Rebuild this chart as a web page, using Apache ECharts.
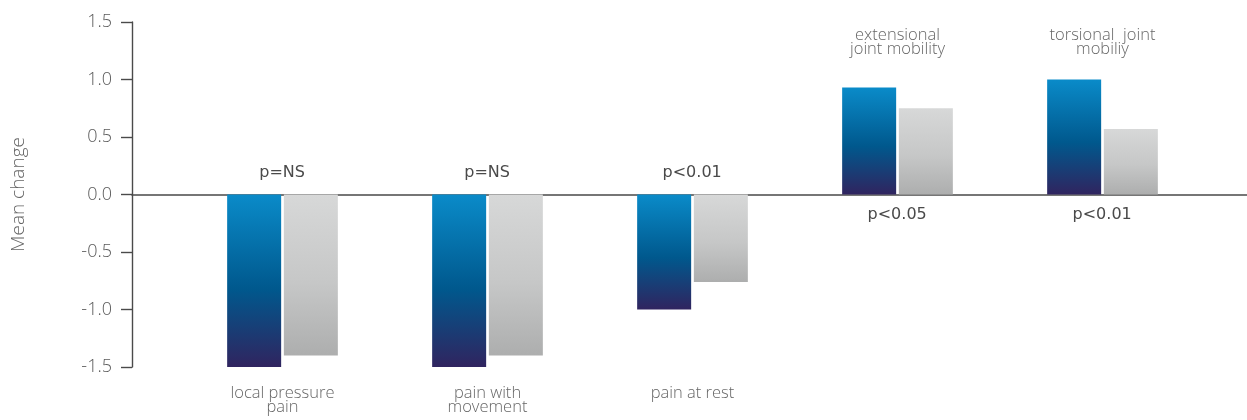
<!DOCTYPE html>
<html>
<head>
<meta charset="utf-8">
<script src="https://cdn.jsdelivr.net/npm/echarts@6/dist/echarts.min.js"></script>
<style>
html,body{margin:0;padding:0;background:#fff;}
#chart{width:1247px;height:420px;}
</style>
</head>
<body>
<div id="chart"></div>
<script>
// ---- data ----
var categories = ['local pressure\npain', 'pain with\nmovement', 'pain at rest', 'extensional\njoint mobility', 'torsional  joint\nmobiliy'];
var treatmentValues = [-1.5, -1.5, -1.0, 0.93, 1.0];
var comparatorValues = [-1.4, -1.4, -0.76, 0.75, 0.57];
var pValues = ['p=NS', 'p=NS', 'p<0.01', 'p<0.05', 'p<0.01'];
var yTicks = [-1.5, -1.0, -0.5, 0.0, 0.5, 1.0, 1.5];

var LIGHT = '"Open Sans", "DejaVu Sans", sans-serif';
var PFONT = '"DejaVu Sans", "Open Sans", sans-serif';
var chart = echarts.init(document.getElementById('chart'), null, {renderer: 'canvas'});

function grad(c0, c1, c2) {
  return new echarts.graphic.LinearGradient(0, 0, 0, 1, [
    {offset: 0, color: c0}, {offset: 0.55, color: c1}, {offset: 1, color: c2}
  ]);
}

var blueData = treatmentValues.map(function (v) {
  return {
    value: v,
    itemStyle: {color: grad('#0a8bc9', '#00588d', '#30245f')},
    label: {position: v < 0 ? 'top' : 'bottom', distance: v < 0 ? 14 : 12}
  };
});
var greyData = comparatorValues.map(function (v) {
  return {
    value: v,
    itemStyle: {color: grad('#d7d8d8', '#c6c7c7', '#adaeae')}
  };
});

var option = {
  animation: false,
  backgroundColor: '#ffffff',
  grid: [
    {left: 132, right: 0, top: 22, bottom: 53},
    {left: 180, right: 42, top: 22, bottom: 53}
  ],
  xAxis: [
    {
      gridIndex: 0, type: 'value', min: 0, max: 1,
      axisLine: {show: true, onZero: true, lineStyle: {color: '#4a4a4a', width: 1.6}},
      axisTick: {show: false}, axisLabel: {show: false}, splitLine: {show: false}
    },
    {
      gridIndex: 1, type: 'category', data: categories, position: 'bottom',
      axisLine: {show: false, onZero: false}, axisTick: {show: false}, splitLine: {show: false},
      axisLabel: {
        interval: 0, margin: 20, color: '#666666', fontFamily: LIGHT, fontSize: 16.5, fontWeight: 300,
        lineHeight: 13.5,
        formatter: function (val, idx) { return treatmentValues[idx] < 0 ? val : ''; }
      }
    },
    {
      gridIndex: 1, type: 'category', data: categories, position: 'top',
      axisLine: {show: false, onZero: false}, axisTick: {show: false}, splitLine: {show: false},
      axisLabel: {
        interval: 0, inside: true, margin: 7, color: '#666666', fontFamily: LIGHT, fontSize: 16.5, fontWeight: 300,
        lineHeight: 13.5,
        formatter: function (val, idx) { return treatmentValues[idx] >= 0 ? val : ''; }
      }
    }
  ],
  yAxis: [
    {
      gridIndex: 0, type: 'value', min: yTicks[0], max: yTicks[yTicks.length - 1], interval: 0.5,
      name: 'Mean change', nameLocation: 'middle', nameGap: 104,
      nameTextStyle: {color: '#666666', fontFamily: LIGHT, fontSize: 19, fontWeight: 300},
      axisLine: {show: true, lineStyle: {color: '#4a4a4a', width: 1.4}},
      axisTick: {show: true, length: 11, lineStyle: {color: '#4a4a4a', width: 1.4}},
      splitLine: {show: false},
      axisLabel: {
        margin: 20, color: '#5a5a5a', fontFamily: LIGHT, fontSize: 18, fontWeight: 300,
        formatter: function (v) { return v.toFixed(1); }
      }
    },
    {
      gridIndex: 1, type: 'value', min: yTicks[0], max: yTicks[yTicks.length - 1], interval: 0.5,
      show: false, splitLine: {show: false}
    }
  ],
  series: [
    {
      name: 'treatment', type: 'bar', xAxisIndex: 1, yAxisIndex: 1,
      barWidth: 54, barGap: '5%',
      data: blueData,
      label: {
        show: true, offset: [28, 0],
        color: '#4a4a4a', fontFamily: PFONT, fontSize: 16,
        formatter: function (p) { return pValues[p.dataIndex]; }
      }
    },
    {
      name: 'comparator', type: 'bar', xAxisIndex: 1, yAxisIndex: 1,
      barWidth: 54, barGap: '5%',
      data: greyData
    }
  ]
};
chart.setOption(option);
</script>
</body>
</html>
